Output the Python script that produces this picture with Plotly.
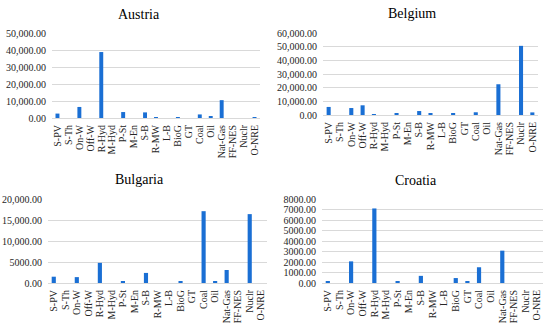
import plotly.graph_objects as go

categories = ["S-PV", "S-Th", "On-W", "Off-W", "R-Hyd", "M-Hyd", "P-St", "M-En", "S-B",
              "R-MW", "L-B", "BioG", "GT", "Coal", "Oil", "Nat-Gas", "FF-NES", "Nuclr", "O-NRE"]

austria = [2600, 0, 6500, 0, 38800, 0, 3500, 0, 3300, 400, 0, 500, 0, 2100, 600, 10500, 0, 0, 500]
belgium = [5900, 0, 5100, 7100, 400, 0, 1000, 0, 2900, 900, 0, 1000, 0, 2000, 0, 22500, 0, 50600, 1900]
bulgaria = [1500, 0, 1400, 0, 4800, 0, 300, 0, 2400, 0, 0, 300, 0, 17100, 400, 3100, 0, 16400, 0]
croatia = [150, 0, 2060, 0, 7100, 0, 100, 0, 680, 0, 0, 470, 100, 1500, 0, 3080, 0, 0, 0]

austria_ticks = [0, 10000, 20000, 30000, 40000, 50000]
austria_ticktext = ["0.00", "10,000.00", "20,000.00", "30,000.00", "40,000.00", "50,000.00"]
belgium_ticks = [0, 10000, 20000, 30000, 40000, 50000, 60000]
belgium_ticktext = ["0.00", "10,000.00", "20,000.00", "30,000.00", "40,000.00", "50,000.00", "60,000.00"]
bulgaria_ticks = [0, 5000, 10000, 15000, 20000]
bulgaria_ticktext = ["0.00", "5000.00", "10,000.00", "15,000.00", "20,000.00"]
croatia_ticks = [0, 1000, 2000, 3000, 4000, 5000, 6000, 7000, 8000]
croatia_ticktext = ["0.00", "1000.00", "2000.00", "3000.00", "4000.00", "5000.00", "6000.00", "7000.00", "8000.00"]

titles = ["Austria", "Belgium", "Bulgaria", "Croatia"]

W, H = 550, 327
BAR = "#1a6fd4"
GRID = "#d9d9d9"
FONT = "Liberation Serif, Times New Roman, serif"
TXT = "#262626"

panels = [
    (austria, austria_ticks, austria_ticktext, (52, 260), (33, 118), 139, 15),
    (belgium, belgium_ticks, belgium_ticktext, (323, 538), (33, 115), 412, 13),
    (bulgaria, bulgaria_ticks, bulgaria_ticktext, (48, 267), (199, 283), 139, 179),
    (croatia, croatia_ticks, croatia_ticktext, (322, 543), (199, 283), 416, 180),
]

fig = go.Figure()
layout = dict(
    width=W, height=H, margin=dict(l=0, r=0, t=0, b=0),
    paper_bgcolor="white", plot_bgcolor="white", showlegend=False,
    font=dict(family=FONT, size=10, color=TXT),
    bargap=0.64,
)
annotations = []
for i, (vals, tv, tt, xpx, ypx, tcx, tcy) in enumerate(panels):
    n = "" if i == 0 else str(i + 1)
    fig.add_trace(go.Bar(x=categories, y=vals, marker=dict(color=BAR, line=dict(width=0)),
                         xaxis="x" + n, yaxis="y" + n))
    layout["xaxis" + n] = dict(
        domain=[xpx[0] / W, xpx[1] / W], anchor="y" + n,
        tickangle=-90, showgrid=False, showline=True, linecolor=GRID, linewidth=1,
        ticks="", tickmode="array", tickvals=categories, ticktext=categories,
        tickfont=dict(family=FONT, size=10, color=TXT), ticklabelstandoff=2,
        type="category", fixedrange=True, automargin=False,
    )
    layout["yaxis" + n] = dict(
        domain=[1 - ypx[1] / H, 1 - ypx[0] / H], anchor="x" + n,
        range=[0, tv[-1]], tickvals=tv, ticktext=tt, showgrid=True, gridcolor=GRID,
        gridwidth=1, zeroline=False, showline=False, ticks="", automargin=False,
        tickfont=dict(family=FONT, size=10, color=TXT), ticklabelstandoff=5, fixedrange=True,
    )
    annotations.append(dict(text=titles[i], x=tcx / W, y=1 - tcy / H, xref="paper", yref="paper",
                            showarrow=False, xanchor="center", yanchor="middle",
                            font=dict(family=FONT, size=14, color="#000000")))
layout["annotations"] = annotations
fig.update_layout(**layout)
fig.write_html("out.html", config={"displayModeBar": False},
               post_script="document.body.style.margin='0';document.body.style.overflow='hidden';")
